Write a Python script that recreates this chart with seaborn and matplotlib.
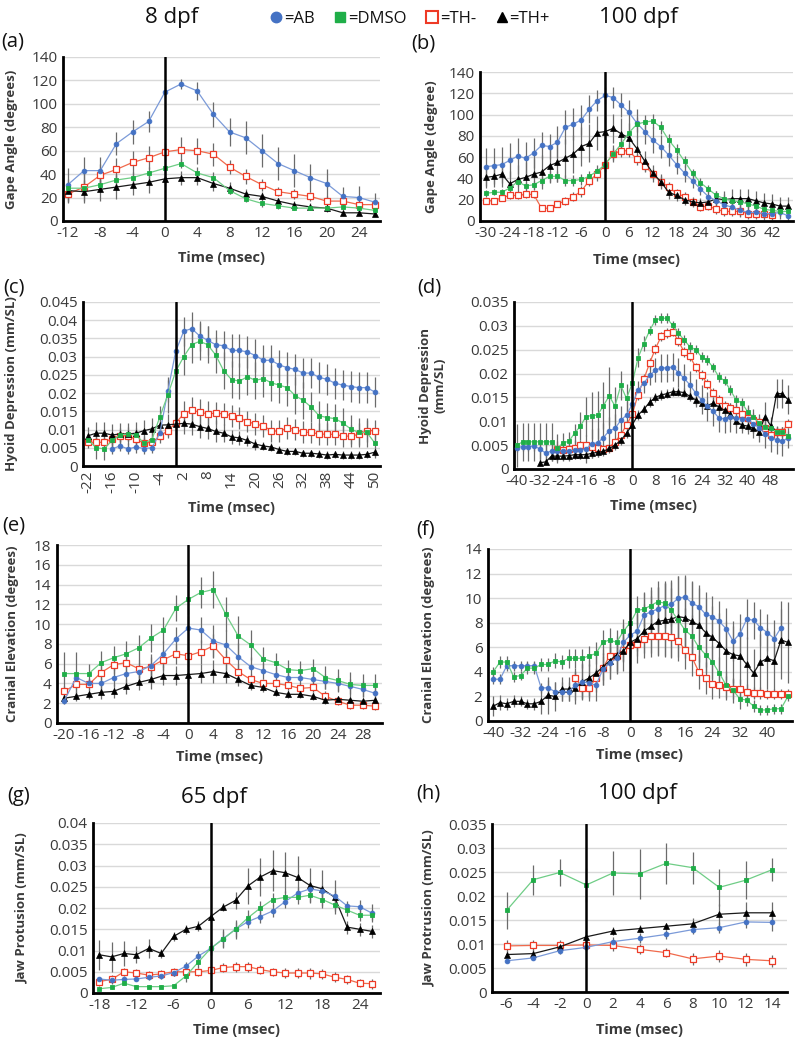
import numpy as np
import matplotlib
matplotlib.use("Agg")
import matplotlib.pyplot as plt
import seaborn as sns
from matplotlib.lines import Line2D

sns.set_theme(style="white")
plt.rcParams['font.family'] = ['Open Sans', 'DejaVu Sans']

nan = np.nan

# ---------------- (a) 8 dpf gape angle ----------------
time_a = list(range(-12, 27, 2))
a_AB   = [31, 43, 43, 66, 76, 85, 110, 117, 111, 91, 76, 71, 60, 49, 43, 37, 32, 21, 20, 16]
a_DMSO = [28, 28, 31, 35, 37, 41, 45, 49, 41, 37, 26, 19, 15, 13, 11, 11, 11, 12, 11, 9]
a_THm  = [23, 29, 39, 44, 50, 54, 59, 61, 60, 57, 46, 38, 31, 25, 23, 21, 17, 17, 14, 14]
a_THp  = [26, 25, 27, 29, 31, 33, 36, 37, 37, 32, 28, 23, 21, 17, 14, 12, 11, 7, 7, 6]
a_AB_err   = [14, 12, 12, 10, 10, 9, 5, 4, 8, 11, 12, 14, 14, 14, 14, 12, 12, 8, 10, 8]
a_DMSO_err = [4, 4, 4, 5, 5, 5, 4, 4, 5, 5, 3, 3, 3, 3, 2, 2, 2, 2, 2, 2]
a_THm_err  = [8, 12, 10, 10, 10, 10, 8, 11, 11, 10, 6, 6, 5, 4, 4, 4, 4, 4, 3, 3]
a_THp_err  = [10, 10, 10, 10, 9, 9, 6, 6, 6, 6, 5, 4, 4, 3, 3, 3, 3, 2, 2, 2]

# ---------------- (b) 100 dpf gape angle ----------------
time_b = list(range(-30, 47, 2))
b_AB   = [51, 52, 53, 57, 61, 59, 64, 71, 70, 74, 88, 91, 95, 105, 113, 118, 116, 109, 102, 92,
          84, 76, 70, 62, 53, 45, 38, 30, 23, 19, 15, 13, 10, 8, 8, 7, 7, 8, 5]
b_DMSO = [26, 27, 27, 31, 37, 33, 34, 38, 42, 42, 38, 38, 39, 42, 47, 53, 63, 72, 83, 91,
          93, 94, 88, 76, 67, 56, 45, 36, 30, 24, 21, 19, 18, 16, 14, 11, 10, 9, 9]
b_THm  = [19, 19, 22, 24, 24, 25, 25, 12, 12, 16, 19, 23, 28, 38, 44, 53, 63, 66, 66, 58,
          52, 44, 37, 32, 26, 23, 18, 13, 14, 11, 9, 9, 9, 7, 7, 7, 6, nan, nan]
b_THp  = [41, 42, 44, 35, 39, 41, 44, 46, 52, 55, 59, 63, 70, 73, 83, 84, 87, 82, 78, 68,
          56, 45, 37, 27, 24, 20, 18, 17, 18, 21, 20, 21, 21, 21, 19, 17, 16, 14, 14]
b_AB_err   = [18, 17, 17, 16, 17, 15, 14, 13, 12, 15, 16, 15, 14, 13, 10, 8, 10, 11, 12, 13,
              12, 12, 11, 10, 9, 8, 7, 6, 5, 5, 5, 5, 6, 6, 6, 6, 6, 6, 5]
b_DMSO_err = [3, 3, 3, 4, 4, 4, 4, 4, 5, 5, 5, 5, 5, 5, 6, 7, 8, 8, 7, 7,
              7, 7, 6, 6, 5, 5, 4, 4, 4, 4, 4, 4, 4, 4, 4, 4, 4, 4, 4]
b_THm_err  = [3, 3, 3, 3, 3, 3, 3, 3, 3, 3, 4, 4, 5, 5, 6, 6, 6, 6, 6, 5,
              5, 5, 5, 5, 4, 4, 4, 4, 4, 4, 4, 4, 4, 4, 4, 4, 4, nan, nan]
b_THp_err  = [10, 10, 12, 12, 14, 14, 15, 16, 16, 18, 18, 18, 18, 18, 16, 14, 14, 15, 14, 12,
              10, 8, 7, 6, 5, 5, 5, 5, 6, 7, 8, 9, 9, 9, 9, 9, 9, 9, 9]

# ---------------- (c) 8 dpf hyoid depression ----------------
time_c = list(range(-22, 51, 2))
c_AB   = [nan, nan, nan, 0.0047, 0.0055, 0.0047, 0.0052, 0.0048, 0.005, 0.009,
          0.0205, 0.0315, 0.037, 0.0377, 0.0357, 0.0345, 0.0333, 0.033, 0.0317, 0.0317,
          0.0313, 0.0303, 0.029, 0.029, 0.0277, 0.027, 0.0265, 0.0255, 0.0255, 0.0243,
          0.0238, 0.0227, 0.0222, 0.0218, 0.0215, 0.0215, 0.0203]
c_DMSO = [0.0072, 0.005, 0.0047, 0.007, 0.0085, 0.0088, 0.0085, 0.0063, 0.0072, 0.0135,
          0.0195, 0.026, 0.030, 0.0333, 0.0342, 0.0333, 0.0305, 0.0262, 0.0237, 0.0233,
          0.0245, 0.0235, 0.024, 0.0228, 0.0222, 0.0215, 0.0193, 0.018, 0.0162, 0.0138,
          0.0133, 0.013, 0.0118, 0.0101, 0.0092, 0.0092, 0.0063]
c_THm  = [0.0065, 0.0065, 0.0065, 0.0075, 0.0083, 0.0083, 0.0073, 0.0063, 0.0065, 0.0082,
          0.0097, 0.0118, 0.0143, 0.0153, 0.0148, 0.0143, 0.0145, 0.0143, 0.0138, 0.0132,
          0.0122, 0.0115, 0.011, 0.0097, 0.0095, 0.0105, 0.01, 0.0093, 0.0092, 0.0088,
          0.0087, 0.0087, 0.0082, 0.0082, 0.0087, 0.0097, 0.0097]
c_THp  = [0.0083, 0.009, 0.009, 0.0085, 0.0088, 0.0088, 0.009, 0.0097, 0.0102, 0.0112,
          0.0113, 0.0115, 0.0117, 0.0115, 0.0108, 0.0103, 0.0095, 0.009, 0.008, 0.0077,
          0.007, 0.006, 0.0055, 0.0052, 0.0045, 0.004, 0.004, 0.0035, 0.0035, 0.0033,
          0.003, 0.0032, 0.003, 0.003, 0.003, 0.0032, 0.0038]
c_AB_err   = [nan, nan, nan, 0.0015, 0.0015, 0.0015, 0.0015, 0.0015, 0.0015, 0.002,
              0.003, 0.004, 0.004, 0.0045, 0.0042, 0.004, 0.004, 0.004, 0.0045, 0.0045,
              0.0045, 0.0045, 0.0042, 0.0042, 0.0042, 0.0042, 0.0042, 0.0042, 0.0042, 0.0042,
              0.0042, 0.0042, 0.0042, 0.0042, 0.0042, 0.0042, 0.0042]
c_DMSO_err = [0.0015, 0.003, 0.003, 0.002, 0.002, 0.002, 0.002, 0.002, 0.002, 0.003,
              0.005, 0.005, 0.005, 0.005, 0.005, 0.005, 0.005, 0.005, 0.005, 0.005,
              0.005, 0.005, 0.005, 0.005, 0.005, 0.005, 0.005, 0.005, 0.004, 0.004,
              0.004, 0.004, 0.004, 0.004, 0.004, 0.004, 0.004]
c_THm_err  = [0.0015, 0.0015, 0.0015, 0.0015, 0.0015, 0.0015, 0.0015, 0.0015, 0.0015, 0.002,
              0.002, 0.003, 0.0035, 0.0035, 0.0035, 0.0035, 0.003, 0.003, 0.003, 0.003,
              0.003, 0.003, 0.003, 0.003, 0.003, 0.003, 0.003, 0.003, 0.003, 0.003,
              0.003, 0.003, 0.003, 0.003, 0.003, 0.003, 0.003]
c_THp_err  = [0.0025, 0.003, 0.003, 0.003, 0.003, 0.003, 0.003, 0.003, 0.003, 0.003,
              0.003, 0.003, 0.003, 0.003, 0.003, 0.003, 0.003, 0.0025, 0.002, 0.002,
              0.0015, 0.0015, 0.0012, 0.0012, 0.001, 0.001, 0.001, 0.001, 0.001, 0.001,
              0.001, 0.001, 0.001, 0.001, 0.001, 0.001, 0.001]

# ---------------- (d) 100 dpf hyoid depression ----------------
time_d = list(range(-40, 55, 2))
d_AB   = [0.0045, 0.0047, 0.0047, 0.0048, 0.0042, 0.0033, 0.0038, 0.0038, 0.0038, 0.0037,
          0.004, 0.004, 0.0042, 0.0053, 0.0055, 0.0066, 0.008, 0.0085, 0.0102, 0.0113,
          0.0136, 0.0165, 0.018, 0.0196, 0.0207, 0.0212, 0.0212, 0.0214, 0.0202, 0.019,
          0.0176, 0.0159, 0.0145, 0.0131, 0.0121, 0.0107, 0.0105, 0.0108, 0.0106, 0.0105,
          0.0104, 0.0095, 0.0086, 0.0074, 0.0066, 0.0061, 0.0058, 0.0065]
d_DMSO = [0.005, 0.0057, 0.0057, 0.0057, 0.0057, 0.0057, 0.0057, 0.0043, 0.0055, 0.0058,
          0.0075, 0.009, 0.011, 0.0112, 0.0113, 0.0133, 0.0153, 0.0132, 0.0175, 0.0148,
          0.018, 0.0233, 0.0263, 0.029, 0.0312, 0.0316, 0.0316, 0.0301, 0.0285, 0.027,
          0.0256, 0.025, 0.0235, 0.0228, 0.0213, 0.0193, 0.0185, 0.0165, 0.0145, 0.0138,
          0.012, 0.0108, 0.0097, 0.0088, 0.0085, 0.0078, 0.0078, 0.007]
d_THm  = [nan, nan, nan, nan, nan, nan, nan, 0.0042, 0.004, 0.0042,
          0.0045, 0.005, 0.005, 0.0046, 0.0045, 0.0042, 0.0045, 0.0057, 0.0072, 0.0092,
          0.0115, 0.0156, 0.0188, 0.0222, 0.0252, 0.0278, 0.0285, 0.0288, 0.0268, 0.0245,
          0.0236, 0.0213, 0.0197, 0.0178, 0.016, 0.0145, 0.0133, 0.0128, 0.0124, 0.0115,
          0.0107, 0.0103, 0.0098, 0.0085, 0.0072, 0.0078, 0.0078, 0.0095]
d_THp  = [nan, nan, nan, nan, 0.0013, 0.0015, 0.0027, 0.0027, 0.0027, 0.0028,
          0.003, 0.003, 0.003, 0.0033, 0.0035, 0.0037, 0.0043, 0.005, 0.006, 0.0075,
          0.0093, 0.0113, 0.0125, 0.014, 0.015, 0.0155, 0.0158, 0.0162, 0.0162, 0.016,
          0.0152, 0.0145, 0.0138, 0.0133, 0.0138, 0.013, 0.0123, 0.0115, 0.01, 0.0092,
          0.009, 0.0085, 0.0078, 0.011, 0.009, 0.0158, 0.0158, 0.0145]
d_AB_err   = [0.001, 0.001, 0.001, 0.001, 0.002, 0.002, 0.002, 0.002, 0.002, 0.002,
              0.002, 0.002, 0.003, 0.003, 0.003, 0.003, 0.003, 0.003, 0.003, 0.003,
              0.002, 0.002, 0.002, 0.002, 0.0025, 0.003, 0.003, 0.003, 0.003, 0.003,
              0.003, 0.003, 0.003, 0.003, 0.003, 0.003, 0.003, 0.003, 0.003, 0.003,
              0.003, 0.003, 0.003, 0.003, 0.003, 0.003, 0.003, 0.002]
d_DMSO_err = [0.0045, 0.004, 0.004, 0.004, 0.004, 0.004, 0.004, 0.003, 0.002, 0.002,
              0.002, 0.003, 0.004, 0.005, 0.005, 0.005, 0.006, 0.004, 0.003, 0.003,
              0.003, 0.002, 0.0015, 0.001, 0.001, 0.001, 0.001, 0.001, 0.001, 0.001,
              0.001, 0.001, 0.001, 0.001, 0.001, 0.001, 0.001, 0.001, 0.001, 0.001,
              0.001, 0.001, 0.001, 0.001, 0.001, 0.001, 0.001, 0.001]
d_THm_err  = [nan, nan, nan, nan, nan, nan, nan, 0.0005, 0.0005, 0.0005,
              0.0005, 0.0005, 0.0005, 0.0005, 0.0005, 0.0005, 0.0005, 0.0007, 0.0007, 0.0008,
              0.0008, 0.001, 0.001, 0.001, 0.001, 0.001, 0.001, 0.001, 0.001, 0.001,
              0.001, 0.001, 0.001, 0.001, 0.001, 0.001, 0.001, 0.001, 0.001, 0.001,
              0.001, 0.001, 0.001, 0.001, 0.001, 0.001, 0.001, 0.001]
d_THp_err  = [nan, nan, nan, nan, 0.0005, 0.0005, 0.001, 0.001, 0.001, 0.001,
              0.001, 0.001, 0.001, 0.001, 0.001, 0.001, 0.001, 0.001, 0.001, 0.001,
              0.001, 0.001, 0.001, 0.001, 0.001, 0.001, 0.001, 0.001, 0.001, 0.001,
              0.001, 0.001, 0.001, 0.001, 0.001, 0.001, 0.001, 0.001, 0.001, 0.001,
              0.001, 0.001, 0.001, 0.003, 0.002, 0.003, 0.003, 0.003]

# ---------------- (e) 8 dpf cranial elevation ----------------
time_e = list(range(-20, 31, 2))
e_AB   = [2.2, 4.6, 4.0, 4.0, 4.6, 5.0, 5.2, 5.8, 7.0, 8.5, 9.6, 9.4, 8.3, 7.9, 6.7, 5.7,
          5.3, 4.9, 4.6, 4.6, 4.4, 4.2, 4.0, 3.7, 3.4, 3.0]
e_DMSO = [5.0, 5.0, 5.0, 6.1, 6.6, 7.0, 7.6, 8.6, 9.4, 11.6, 12.5, 13.2, 13.5, 11.0, 8.8, 7.9,
          6.5, 6.1, 5.4, 5.3, 5.5, 4.6, 4.3, 3.9, 3.8, 3.8]
e_THm  = [3.2, 3.9, 3.9, 5.1, 5.9, 6.1, 5.5, 5.7, 6.4, 7.0, 6.8, 7.2, 7.8, 6.4, 5.2, 4.4,
          4.0, 4.0, 3.8, 3.5, 3.6, 2.7, 2.2, 1.8, 1.8, 1.7]
e_THp  = [2.5, 2.7, 2.9, 3.1, 3.2, 3.7, 4.1, 4.4, 4.8, 4.8, 4.9, 5.0, 5.2, 5.0, 4.4, 3.8,
          3.6, 3.1, 2.9, 2.9, 2.7, 2.3, 2.4, 2.3, 2.2, 2.3]
e_AB_err   = [0.3, 0.5, 0.5, 0.7, 0.9, 1.0, 1.0, 1.2, 1.3, 1.2, 1.2, 1.3, 1.6, 1.5, 1.4, 1.0,
              0.8, 0.8, 0.8, 0.7, 0.7, 0.8, 0.8, 0.8, 0.8, 0.8]
e_DMSO_err = [2.2, 2.2, 1.0, 1.2, 1.2, 1.3, 1.3, 1.4, 1.3, 1.3, 1.5, 1.6, 1.9, 1.7, 2.0, 1.5,
              1.2, 1.0, 1.0, 1.0, 1.0, 1.2, 1.2, 1.3, 1.2, 1.2]
e_THm_err  = [0.5, 0.6, 0.6, 0.8, 0.9, 0.9, 0.9, 1.0, 1.0, 1.0, 1.0, 1.2, 1.2, 1.0, 0.8, 0.6,
              0.5, 0.5, 0.5, 0.5, 0.5, 0.5, 0.4, 0.4, 0.4, 0.4]
e_THp_err  = [0.3, 0.5, 0.5, 0.7, 0.7, 0.8, 0.8, 1.0, 1.0, 1.0, 1.0, 1.0, 1.2, 1.0, 0.7, 0.5,
              0.5, 0.4, 0.4, 0.4, 0.4, 0.4, 0.3, 0.3, 0.3, 0.3]

# ---------------- (f) 100 dpf cranial elevation ----------------
time_f = list(range(-40, 47, 2))
f_AB   = [3.4, 3.4, 4.5, 4.5, 4.5, 4.5, 4.5, 2.7, 2.7, 2.4, 2.4, 2.4, 2.9, 3.2, 3.1, 2.9,
          4.2, 4.7, 5.1, 6.4, 7.0, 7.3, 8.6, 8.9, 9.1, 9.4, 9.5, 10.0, 10.1, 9.6, 9.3, 8.7,
          8.5, 8.1, 7.5, 6.5, 7.1, 8.3, 8.2, 7.6, 7.2, 6.7, 7.6, nan]
f_DMSO = [4.0, 4.8, 4.8, 3.6, 3.7, 4.3, 4.3, 4.6, 4.6, 4.9, 4.8, 5.1, 5.1, 5.1, 5.3, 5.5,
          6.4, 6.6, 6.4, 7.3, 8.0, 9.0, 9.1, 9.4, 9.7, 9.6, 9.0, 8.2, 7.4, 6.9, 6.0, 5.4,
          4.8, 3.9, 2.9, 2.5, 1.8, 1.7, 1.2, 0.9, 0.9, 1.0, 1.0, 2.0]
f_THm  = [nan, nan, nan, nan, nan, nan, nan, nan, nan, nan, nan, nan, 3.5, 2.7, 2.7, 3.5,
          4.3, 5.3, 5.3, 5.8, 6.2, 6.3, 6.7, 6.9, 6.9, 6.9, 6.8, 6.5, 5.8, 5.2, 4.0, 3.5,
          3.0, 2.9, 2.8, 2.6, 2.6, 2.4, 2.3, 2.3, 2.2, 2.2, 2.2, 2.2]
f_THp  = [1.2, 1.5, 1.4, 1.6, 1.6, 1.4, 1.4, 1.6, 2.1, 2.0, 2.6, 2.6, 2.7, 3.2, 3.5, 3.9,
          4.4, 4.9, 5.4, 5.7, 6.4, 6.7, 7.3, 7.7, 8.1, 8.2, 8.3, 8.5, 8.4, 8.1, 7.8, 7.2,
          6.8, 6.3, 5.7, 5.4, 5.3, 4.6, 3.9, 4.8, 5.1, 4.9, 6.6, 6.4]
f_AB_err   = [0.4, 0.4, 0.4, 0.4, 0.4, 0.4, 0.4, 0.4, 0.6, 0.8, 0.8, 0.8, 1.2, 1.4, 1.5, 1.3,
              1.3, 1.3, 1.3, 1.5, 1.5, 1.6, 1.8, 1.8, 1.8, 1.8, 1.8, 1.8, 1.8, 1.8, 1.8, 1.8,
              1.7, 1.7, 1.7, 1.6, 1.6, 1.6, 1.5, 1.5, 1.5, 1.5, 1.5, nan]
f_DMSO_err = [0.4, 0.5, 0.5, 0.4, 0.4, 0.5, 0.5, 0.5, 0.5, 0.6, 0.6, 0.8, 0.8, 0.8, 0.8, 0.9,
              1.0, 1.0, 1.0, 1.0, 1.0, 1.2, 1.4, 1.5, 1.7, 1.8, 1.8, 1.8, 1.8, 1.7, 1.6, 1.5,
              1.4, 1.3, 1.2, 1.0, 0.8, 0.5, 0.5, 0.4, 0.4, 0.4, 0.4, 0.4]
f_THm_err  = [nan, nan, nan, nan, nan, nan, nan, nan, nan, nan, nan, nan, 0.8, 0.8, 0.8, 0.8,
              1.0, 1.2, 1.2, 1.0, 1.0, 1.0, 1.2, 1.4, 1.5, 1.6, 1.6, 1.6, 1.6, 1.5, 1.4, 1.3,
              1.2, 1.0, 0.9, 0.8, 0.8, 0.6, 0.5, 0.5, 0.4, 0.4, 0.4, 0.4]
f_THp_err  = [0.8, 0.6, 0.5, 0.5, 0.4, 0.4, 0.5, 1.0, 1.5, 1.2, 1.0, 1.0, 1.3, 1.5, 1.5, 1.5,
              1.5, 1.5, 1.5, 1.6, 1.8, 2.0, 2.2, 2.5, 2.8, 3.0, 3.2, 3.3, 3.3, 3.2, 3.0, 2.8,
              2.6, 2.5, 2.4, 2.3, 2.3, 2.2, 2.0, 2.3, 2.5, 2.4, 3.2, 3.3]

# ---------------- (g) 65 dpf jaw protrusion ----------------
time_g = list(range(-18, 27, 2))
g_AB   = [0.0033, 0.003, 0.0032, 0.0033, 0.0037, 0.004, 0.0048, 0.0063, 0.0087, 0.0105,
          0.0128, 0.015, 0.0168, 0.018, 0.0193, 0.0215, 0.0235, 0.0245, 0.024, 0.0228,
          0.0205, 0.0203, 0.0188]
g_DMSO = [0.001, 0.0013, 0.0023, 0.0015, 0.0015, 0.0015, 0.0017, 0.004, 0.0073, 0.0105,
          0.0127, 0.015, 0.0177, 0.02, 0.022, 0.0225, 0.0225, 0.023, 0.022, 0.0207,
          0.0195, 0.0183, 0.0183]
g_THm  = [0.0027, 0.0032, 0.005, 0.0047, 0.0042, 0.0045, 0.005, 0.005, 0.005, 0.0053,
          0.006, 0.0062, 0.0062, 0.0055, 0.005, 0.0047, 0.0047, 0.0047, 0.0045, 0.0037,
          0.0032, 0.0023, 0.0022]
g_THp  = [0.009, 0.0085, 0.0093, 0.009, 0.0105, 0.0093, 0.0133, 0.015, 0.0157, 0.018,
          0.0202, 0.0218, 0.0252, 0.0273, 0.0288, 0.0283, 0.0272, 0.0253, 0.0245, 0.0225,
          0.0155, 0.015, 0.0145]
g_AB_err   = [0.0005, 0.0005, 0.0005, 0.0005, 0.0006, 0.0006, 0.0008, 0.001, 0.0012, 0.0015,
              0.0022, 0.0022, 0.0015, 0.0015, 0.0015, 0.0015, 0.0015, 0.0015, 0.0015, 0.0015,
              0.0012, 0.0015, 0.0022]
g_DMSO_err = [0.0003, 0.0004, 0.0005, 0.0004, 0.0004, 0.0004, 0.0005, 0.0015, 0.0015, 0.0015,
              0.0018, 0.0018, 0.0018, 0.0016, 0.0016, 0.0015, 0.0016, 0.0017, 0.0015, 0.0014,
              0.0013, 0.0013, 0.0012]
g_THm_err  = [0.001, 0.001, 0.001, 0.001, 0.001, 0.001, 0.001, 0.001, 0.001, 0.001,
              0.001, 0.0012, 0.0012, 0.001, 0.001, 0.0012, 0.0012, 0.0013, 0.0012, 0.0012,
              0.001, 0.001, 0.0012]
g_THp_err  = [0.0035, 0.0035, 0.003, 0.002, 0.0022, 0.001, 0.001, 0.001, 0.0012, 0.001,
              0.001, 0.002, 0.0042, 0.0045, 0.0048, 0.0048, 0.005, 0.0042, 0.0045, 0.004,
              0.0015, 0.0015, 0.0015]

# ---------------- (h) 100 dpf jaw protrusion ----------------
time_h = list(range(-6, 15, 2))
h_AB   = [0.0065, 0.0071, 0.0086, 0.0093, 0.0105, 0.0112, 0.012, 0.013, 0.0134, 0.0146, 0.0145]
h_DMSO = [0.017, 0.0234, 0.0249, 0.0223, 0.0248, 0.0246, 0.0268, 0.0259, 0.0218, 0.0233, 0.0255]
h_THm  = [0.0096, 0.0097, 0.0097, 0.0098, 0.0097, 0.0089, 0.0082, 0.0069, 0.0075, 0.0068, 0.0065]
h_THp  = [0.0078, 0.008, 0.0094, 0.0115, 0.0127, 0.0132, 0.0137, 0.0142, 0.0162, 0.0165, 0.0165]
h_AB_err   = [0.0005, 0.0005, 0.0006, 0.0008, 0.0009, 0.001, 0.001, 0.001, 0.0012, 0.0012, 0.0018]
h_DMSO_err = [0.0039, 0.0031, 0.0028, 0.0035, 0.0045, 0.0052, 0.0043, 0.0033, 0.0038, 0.004, 0.0024]
h_THm_err  = [0.0012, 0.0011, 0.0011, 0.0011, 0.0012, 0.001, 0.001, 0.0012, 0.0012, 0.0013, 0.0013]
h_THp_err  = [0.0007, 0.0008, 0.0008, 0.0012, 0.0009, 0.0007, 0.0007, 0.0012, 0.0022, 0.0022, 0.0023]

groups = ['=AB', '=DMSO', '=TH-', '=TH+']

# ---------------- styling ----------------
W, H = 800, 1042
STY = {
    'AB':   dict(line='#7b9ad8', mfc='#4472c4', mec='#4472c4', marker='o', ms=3.4, mew=0.6),
    'DMSO': dict(line='#6fcd86', mfc='#1fae48', mec='#1fae48', marker='s', ms=3.4, mew=0.6),
    'TH-':  dict(line='#f06a4c', mfc='white',   mec='#ee3a26', marker='s', ms=4.2, mew=0.9),
    'TH+':  dict(line='#1a1a1a', mfc='black',   mec='black',   marker='^', ms=3.8, mew=0.5),
}
TXT = '#3a3a3a'
fig = plt.figure(figsize=(W / 100, H / 100), dpi=100)


def panel(box, t, data, errs, ylim, yticks, xlim, xticks, ylabel, ylab_px, xlab_px,
          rot=0, tsize=11):
    l, top, r, b = box
    ax = fig.add_axes([l / W, 1 - b / H, (r - l) / W, (b - top) / H])
    t = np.asarray(t, float)
    for key in ['TH-', 'TH+', 'AB', 'DMSO']:
        y = np.asarray(data[key], float)
        e = np.asarray(errs[key], float)
        assert len(y) == len(t) == len(e), (ylabel, key, len(y), len(t), len(e))
        m = ~np.isnan(y)
        s = STY[key]
        ax.errorbar(t[m], y[m], yerr=e[m], fmt='none', ecolor='#6b6b6b',
                    elinewidth=0.9, capsize=0, zorder=2)
        sns.lineplot(x=t[m], y=y[m], ax=ax, color=s['line'], linewidth=0.9,
                     marker=s['marker'], markersize=s['ms'], markerfacecolor=s['mfc'],
                     markeredgecolor=s['mec'], markeredgewidth=s['mew'],
                     estimator=None, errorbar=None, sort=False, legend=False, zorder=3)
    ax.axvline(0, color='black', lw=1.8, zorder=4)
    ax.set_xlim(*xlim)
    ax.set_ylim(*ylim)
    ax.set_yticks(yticks)
    ax.set_yticklabels([f"{v:g}" for v in yticks])
    ax.set_xticks(xticks)
    ax.set_xticklabels([f"{v:g}" for v in xticks])
    ax.yaxis.grid(True, color='#d9d9d9', lw=1.0)
    ax.xaxis.grid(False)
    ax.set_axisbelow(True)
    for sp in ['top', 'right']:
        ax.spines[sp].set_visible(False)
    for sp in ['left', 'bottom']:
        ax.spines[sp].set_color('black')
        ax.spines[sp].set_linewidth(2.0)
    ax.tick_params(axis='y', length=0, labelsize=tsize, colors=TXT, pad=4)
    ax.tick_params(axis='x', length=0, labelsize=tsize, colors=TXT, pad=3.5)
    if rot:
        ax.tick_params(axis='x', labelrotation=rot)
    ax.set_ylabel(ylabel, fontsize=9.5, fontweight='bold', color=TXT, linespacing=1.1)
    ax.set_xlabel('Time (msec)', fontsize=10.5, fontweight='bold', color=TXT)
    ax.yaxis.set_label_coords((ylab_px - l) / (r - l), 0.5)
    ax.xaxis.set_label_coords(0.5, (b - xlab_px) / (b - top))
    return ax


def dd(ab, dm, thm, thp):
    return {'AB': ab, 'DMSO': dm, 'TH-': thm, 'TH+': thp}


panel((63, 57, 380, 221), time_a, dd(a_AB, a_DMSO, a_THm, a_THp),
      dd(a_AB_err, a_DMSO_err, a_THm_err, a_THp_err),
      (0, 140), np.arange(0, 141, 20), (-12.6, 26.6), np.arange(-12, 25, 4),
      'Gape Angle (degrees)', 18, 251)

panel((480, 72, 793, 221), time_b, dd(b_AB, b_DMSO, b_THm, b_THp),
      dd(b_AB_err, b_DMSO_err, b_THm_err, b_THp_err),
      (0, 140), np.arange(0, 141, 20), (-31.5, 47.3), np.arange(-30, 43, 6),
      'Gape Angle (degree)', 438, 253)

panel((83, 302, 380, 466), time_c, dd(c_AB, c_DMSO, c_THm, c_THp),
      dd(c_AB_err, c_DMSO_err, c_THm_err, c_THp_err),
      (0, 0.045), np.linspace(0, 0.045, 10), (-23.3, 51.3), np.arange(-22, 51, 6),
      'Hyoid Depression (mm/SL)', 18, 501, rot=90)

panel((514, 302, 793, 469), time_d, dd(d_AB, d_DMSO, d_THm, d_THp),
      dd(d_AB_err, d_DMSO_err, d_THm_err, d_THp_err),
      (0, 0.035), np.linspace(0, 0.035, 8), (-41, 55.7), np.arange(-40, 49, 8),
      'Hyoid Depression\n(mm/SL)', 446, 499)

panel((57, 545, 382, 723), time_e, dd(e_AB, e_DMSO, e_THm, e_THp),
      dd(e_AB_err, e_DMSO_err, e_THm_err, e_THp_err),
      (0, 18), np.arange(0, 19, 2), (-21.1, 31.1), np.arange(-20, 29, 4),
      'Cranial Elevation (degrees)', 19, 750)

panel((488, 549, 792, 721), time_f, dd(f_AB, f_DMSO, f_THm, f_THp),
      dd(f_AB_err, f_DMSO_err, f_THm_err, f_THp_err),
      (0, 14), np.arange(0, 15, 2), (-41.5, 47.2), np.arange(-40, 41, 8),
      'Cranial Elevation (degrees)', 435, 748)

panel((93, 823, 380, 993), time_g, dd(g_AB, g_DMSO, g_THm, g_THp),
      dd(g_AB_err, g_DMSO_err, g_THm_err, g_THp_err),
      (0, 0.04), np.linspace(0, 0.04, 9), (-19, 27.3), np.arange(-18, 25, 6),
      'Jaw Protusion (mm/SL)', 28, 1023)

panel((492, 824, 787, 992), time_h, dd(h_AB, h_DMSO, h_THm, h_THp),
      dd(h_AB_err, h_DMSO_err, h_THm_err, h_THp_err),
      (0, 0.035), np.linspace(0, 0.035, 8), (-7.1, 15.1), np.arange(-6, 15, 2),
      'Jaw Protrusion (mm/SL)', 435, 1023)

# ---------------- annotations ----------------
def ftext(x, y, s, size, **kw):
    fig.text(x / W, 1 - y / H, s, fontsize=size, ha='center', va='center', color='#111111', **kw)

for lab, x, y in [('(a)', 13, 41), ('(b)', 423, 43), ('(c)', 14, 287), ('(d)', 429, 288),
                  ('(e)', 14, 526), ('(f)', 426, 529), ('(g)', 19, 796), ('(h)', 428, 793)]:
    ftext(x, y, lab, 14.5)

ftext(172, 18, '8 dpf', 16)
ftext(638, 18, '100 dpf', 16)
ftext(214, 797, '65 dpf', 16)
ftext(637, 793, '100 dpf', 16)

handles = [
    Line2D([], [], ls='', marker='o', ms=7.5, mfc='#4472c4', mec='#4472c4'),
    Line2D([], [], ls='', marker='s', ms=7.5, mfc='#1fae48', mec='#1fae48'),
    Line2D([], [], ls='', marker='s', ms=8.5, mfc='white', mec='#ee3a26', mew=1.5),
    Line2D([], [], ls='', marker='^', ms=7.5, mfc='black', mec='black'),
]
leg = fig.legend(handles, groups, ncol=4, loc='center', bbox_to_anchor=(410 / W, 1 - 19 / H),
                 frameon=False, handlelength=0.7, handletextpad=0.1, columnspacing=1.2,
                 fontsize=12, borderaxespad=0)
for txt in leg.get_texts():
    txt.set_color('#111111')

fig.savefig('out.png', dpi=100)
